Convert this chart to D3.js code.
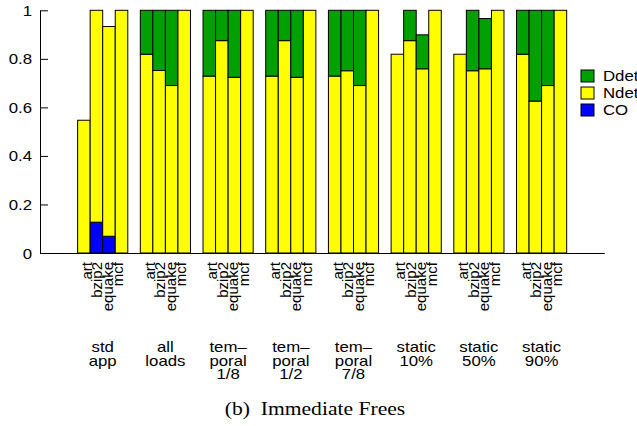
<!DOCTYPE html>
<html>
<head>
<meta charset="utf-8">
<script src="https://cdn.jsdelivr.net/npm/d3@7"></script>
<style>
  html, body { margin: 0; padding: 0; background: #fff; }
  svg { display: block; }
  text { font-family: "Liberation Sans", Arial, Helvetica, sans-serif; fill: #000; }
</style>
</head>
<body>
<svg id="chart" width="637" height="426"></svg>
<script>
// Benchmarks inside each cluster and the configuration of each cluster
const benchmarks = ["art", "bzip2", "equake", "mcf"];
const configs = [
  ["std", "app"],
  ["all", "loads"],
  ["tem\u2013", "poral", "1/8"],
  ["tem\u2013", "poral", "1/2"],
  ["tem\u2013", "poral", "7/8"],
  ["static", "10%"],
  ["static", "50%"],
  ["static", "90%"]
];

// Fractions per configuration, one value per benchmark (stacked CO, Ndet, Ddet)
const coValues = [
  [0, 0.127, 0.069, 0],
  [0, 0, 0, 0],
  [0, 0, 0, 0],
  [0, 0, 0, 0],
  [0, 0, 0, 0],
  [0, 0, 0, 0],
  [0, 0, 0, 0],
  [0, 0, 0, 0]
];
const ndetValues = [
  [0.547, 0.873, 0.864, 1.0],
  [0.819, 0.752, 0.690, 1.0],
  [0.729, 0.875, 0.724, 1.0],
  [0.729, 0.875, 0.724, 1.0],
  [0.729, 0.751, 0.690, 1.0],
  [0.819, 0.875, 0.759, 1.0],
  [0.819, 0.751, 0.759, 1.0],
  [0.819, 0.626, 0.690, 1.0]
];
const ddetValues = [
  [0, 0, 0, 0],
  [0.181, 0.248, 0.310, 0],
  [0.271, 0.125, 0.276, 0],
  [0.271, 0.125, 0.276, 0],
  [0.271, 0.249, 0.310, 0],
  [0, 0.125, 0.140, 0],
  [0, 0.249, 0.207, 0],
  [0.181, 0.374, 0.310, 0]
];
const yTicks = [0, 0.2, 0.4, 0.6, 0.8, 1];

const seriesNames = ["CO", "Ndet", "Ddet"];
const seriesColors = { CO: "#0000ff", Ndet: "#ffff00", Ddet: "#00a000" };
const seriesData = { CO: coValues, Ndet: ndetValues, Ddet: ddetValues };

const svg = d3.select("#chart");
const SX = 1.2; // horizontal text stretch

// Slot scale: each cluster uses 4 bar slots plus one empty slot
const slotsPerGroup = benchmarks.length + 1;
const x = d3.scaleLinear().domain([-3, configs.length * slotsPerGroup + 2]).range([40, 604.3]);
const y = d3.scaleLinear().domain([0, 1]).range([253, 10.3]);

// Build stacked rectangles
const rects = [];
configs.forEach((cfg, g) => {
  benchmarks.forEach((b, i) => {
    let base = 0;
    seriesNames.forEach(s => {
      const v = seriesData[s][g][i];
      if (v > 0) rects.push({ g, i, s, y0: base, y1: base + v });
      base += v;
    });
  });
});

svg.append("g").selectAll("rect").data(rects).join("rect")
  .attr("x", d => x(d.g * slotsPerGroup + d.i))
  .attr("width", d => x(d.g * slotsPerGroup + d.i + 1) - x(d.g * slotsPerGroup + d.i))
  .attr("y", d => y(d.y1))
  .attr("height", d => y(d.y0) - y(d.y1))
  .attr("fill", d => seriesColors[d.s])
  .attr("stroke", "#000")
  .attr("stroke-width", 1);

// Left axis with inward ticks
const yAxis = svg.append("g")
  .attr("transform", `translate(${x.range()[0]},0)`)
  .call(d3.axisLeft(y).tickValues(yTicks).tickSize(-8).tickSizeOuter(0)
    .tickFormat(d => d3.format("~g")(d)));
yAxis.select(".domain").attr("stroke", "#000");
yAxis.selectAll(".tick line").attr("stroke", "#000");
yAxis.selectAll(".tick text")
  .attr("x", 0)
  .attr("dy", "0.36em")
  .attr("transform", `translate(-8,0) scale(${SX},1)`)
  .style("font-size", "14px")
  .style("font-family", "'Liberation Sans', Arial, sans-serif")
  .attr("fill", "#000");

// Bottom axis line
const xAxis = svg.append("g")
  .attr("transform", `translate(0,${y(0)})`)
  .call(d3.axisBottom(x).tickValues([]).tickSizeOuter(0));
xAxis.select(".domain").attr("stroke", "#000");

// Benchmark names, rotated, one column per benchmark under each cluster
const nameStep = 10.5;
configs.forEach((cfg, g) => {
  const cx = (x(g * slotsPerGroup) + x(g * slotsPerGroup + benchmarks.length)) / 2;
  benchmarks.forEach((b, i) => {
    const colX = cx + (i - (benchmarks.length - 1) / 2) * nameStep + 5;
    svg.append("text")
      .attr("transform", `translate(${colX},262) rotate(-90)`)
      .attr("text-anchor", "end")
      .style("font-size", "15px")
      .text(b);
  });
  // Cluster caption lines
  cfg.forEach((line, k) => {
    svg.append("text")
      .attr("transform", `translate(${cx},${352 + k * 13.5}) scale(${SX},1)`)
      .attr("text-anchor", "middle")
      .style("font-size", "14px")
      .text(line);
  });
});

// Legend
const legendOrder = ["Ddet", "Ndet", "CO"];
const legend = svg.append("g");
legendOrder.forEach((s, k) => {
  const ly = 70 + k * 17;
  legend.append("rect")
    .attr("x", 581).attr("y", ly)
    .attr("width", 13).attr("height", 12)
    .attr("fill", seriesColors[s])
    .attr("stroke", "#000").attr("stroke-width", 1);
  legend.append("text")
    .attr("transform", `translate(603,${ly + 11}) scale(${SX},1)`)
    .style("font-size", "14px")
    .text(s);
});

// Figure caption
svg.append("text")
  .attr("transform", `translate(315,415) scale(${SX},1)`)
  .attr("text-anchor", "middle")
  .style("font-family", "'Liberation Serif', 'Times New Roman', serif")
  .style("font-size", "18px")
  .attr("xml:space", "preserve")
  .text("(b)  Immediate Frees");
</script>
</body>
</html>
